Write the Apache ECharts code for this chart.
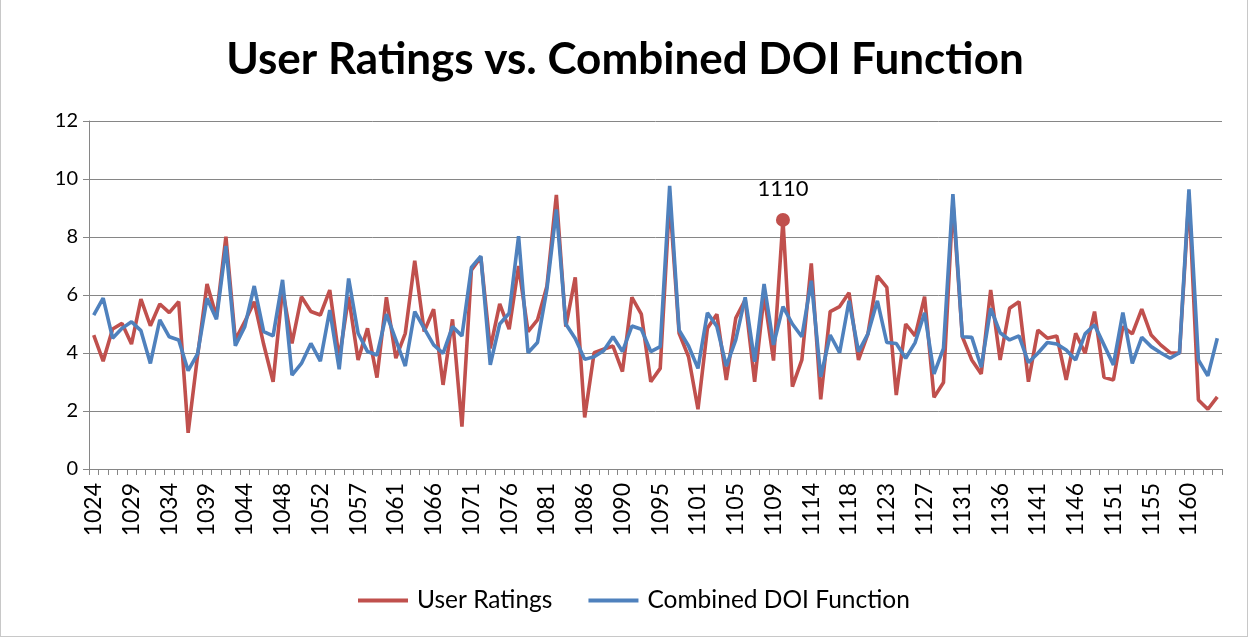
<!DOCTYPE html>
<html>
<head>
<meta charset="utf-8">
<title>User Ratings vs. Combined DOI Function</title>
<script src="https://cdn.jsdelivr.net/npm/echarts@6/dist/echarts.min.js"></script>
<style>
  html, body { margin: 0; padding: 0; background: #fff; }
  #frame { position: absolute; left: 0; top: -1px; width: 1246px; height: 636px; border: 1px solid #c8c8c8; }
  #chart { width: 1250px; height: 637px; }
</style>
</head>
<body>
<div id="frame"></div>
<div id="chart"></div>
<script>
// document ids on the x axis (only every 4th one is labelled)
var categories = [
  '1024','1025','1026','1027','1029','1030','1031','1032','1034','1035','1036','1037',
  '1039','1040','1041','1042','1044','1045','1046','1047','1048','1049','1050','1051',
  '1052','1053','1054','1055','1057','1058','1059','1060','1061','1062','1063','1064',
  '1066','1067','1068','1069','1071','1072','1073','1074','1076','1077','1078','1079',
  '1081','1082','1083','1084','1086','1087','1088','1089','1090','1091','1092','1093',
  '1095','1096','1097','1099','1101','1102','1103','1104','1105','1106','1107','1108',
  '1109','1110','1111','1112','1114','1115','1116','1117','1118','1119','1120','1121',
  '1123','1124','1125','1126','1127','1128','1129','1130','1131','1132','1133','1134',
  '1136','1137','1138','1139','1141','1142','1143','1144','1146','1147','1148','1149',
  '1151','1152','1153','1154','1155','1156','1157','1158','1160','1161','1162','1163'
];

var userRatings = [
  4.62, 3.72, 4.83, 5.02, 4.31, 5.86, 4.94, 5.69, 5.39, 5.77,
  1.25, 3.90, 6.38, 5.25, 8.01, 4.45, 5.08, 5.77, 4.30, 3.01,
  6.20, 4.33, 5.94, 5.43, 5.31, 6.17, 3.80, 5.94, 3.76, 4.85,
  3.15, 5.92, 3.82, 4.68, 7.18, 4.74, 5.51, 2.90, 5.16, 1.46,
  6.86, 7.30, 4.16, 5.69, 4.82, 7.00, 4.74, 5.14, 6.30, 9.45,
  4.91, 6.61, 1.78, 4.01, 4.13, 4.24, 3.36, 5.92, 5.34, 3.01,
  3.47, 9.30, 4.68, 3.87, 2.06, 4.85, 5.34, 3.07, 5.20, 5.83,
  3.01, 6.00, 3.74, 8.59, 2.84, 3.76, 7.09, 2.40, 5.43, 5.60,
  6.08, 3.76, 4.66, 6.66, 6.26, 2.55, 5.00, 4.59, 5.94, 2.47,
  2.98, 9.20, 4.56, 3.76, 3.28, 6.17, 3.76, 5.54, 5.77, 3.01,
  4.79, 4.51, 4.59, 3.07, 4.68, 3.99, 5.43, 3.16, 3.07, 4.91,
  4.66, 5.51, 4.62, 4.28, 4.01, 3.99, 9.40, 2.38, 2.06, 2.49
];

var combinedDOI = [
  5.31, 5.89, 4.51, 4.85, 5.08, 4.77, 3.64, 5.14, 4.56, 4.45,
  3.39, 3.97, 5.89, 5.16, 7.69, 4.25, 4.91, 6.31, 4.74, 4.59,
  6.52, 3.24, 3.64, 4.33, 3.72, 5.48, 3.44, 6.57, 4.68, 4.05,
  3.93, 5.34, 4.45, 3.55, 5.43, 4.85, 4.28, 3.99, 4.91, 4.59,
  6.95, 7.34, 3.59, 5.00, 5.37, 8.03, 4.01, 4.36, 6.20, 8.95,
  5.00, 4.50, 3.78, 3.87, 4.08, 4.56, 4.05, 4.93, 4.82, 4.05,
  4.22, 9.76, 4.79, 4.24, 3.47, 5.39, 4.91, 3.55, 4.45, 5.92,
  3.70, 6.38, 4.28, 5.60, 5.00, 4.56, 6.49, 3.18, 4.62, 4.01,
  5.80, 4.05, 4.66, 5.80, 4.36, 4.33, 3.82, 4.36, 5.39, 3.28,
  4.16, 9.48, 4.56, 4.54, 3.51, 5.54, 4.70, 4.45, 4.59, 3.67,
  3.99, 4.36, 4.31, 4.10, 3.76, 4.66, 4.97, 4.28, 3.59, 5.39,
  3.64, 4.54, 4.22, 4.01, 3.82, 4.01, 9.64, 3.76, 3.21, 4.51
];

var yTicks = [0, 2, 4, 6, 8, 10, 12];
var markedDoc = '1110';

var font = 'Lato, "Open Sans", sans-serif';
var markIdx = categories.indexOf(markedDoc);

var redData = userRatings.map(function (v, i) {
  if (i !== markIdx) return v;
  return {
    value: v,
    symbol: 'circle',
    symbolSize: 14,
    label: {
      show: true,
      position: 'top',
      distance: 13,
      formatter: markedDoc,
      fontSize: 22,
      color: '#000',
      fontFamily: font
    }
  };
});

var myChart = echarts.init(document.getElementById('chart'), null, { renderer: 'canvas' });

myChart.setOption({
  animation: false,
  title: {
    text: 'User Ratings vs. Combined DOI Function',
    left: 'center',
    top: 33,
    textStyle: { fontSize: 44, fontWeight: 'bold', color: '#000', fontFamily: font }
  },
  legend: {
    bottom: 19,
    left: 353,
    icon: 'rect',
    itemWidth: 50,
    itemHeight: 4,
    itemGap: 36,
    textStyle: { fontSize: 24.5, color: '#000', fontFamily: font, padding: [0, 0, 0, 4] }
  },
  grid: { left: 89, right: 28, top: 121, bottom: 168, containLabel: false },
  xAxis: {
    type: 'category',
    data: categories,
    boundaryGap: true,
    axisLine: { lineStyle: { color: '#868686', width: 1 } },
    axisTick: { show: true, interval: 0, length: 6, lineStyle: { color: '#868686' } },
    axisLabel: {
      interval: 3,
      rotate: 90,
      margin: 14,
      fontSize: 23,
      color: '#000',
      fontFamily: font
    },
    splitLine: { show: false }
  },
  yAxis: {
    type: 'value',
    min: yTicks[0],
    max: yTicks[yTicks.length - 1],
    interval: 2,
    axisLine: { show: true, lineStyle: { color: '#868686', width: 1 } },
    axisTick: { show: true, length: 6, lineStyle: { color: '#868686' } },
    axisLabel: { fontSize: 20, color: '#000', margin: 11, fontFamily: font },
    splitLine: { show: true, lineStyle: { color: '#868686', width: 1 } }
  },
  series: [
    {
      name: 'User Ratings',
      type: 'line',
      data: redData,
      symbol: 'none',
      showSymbol: true,
      lineStyle: { color: '#c0504d', width: 3.6 },
      itemStyle: { color: '#c0504d' },
      z: 2
    },
    {
      name: 'Combined DOI Function',
      type: 'line',
      data: combinedDOI,
      symbol: 'none',
      lineStyle: { color: '#4f81bd', width: 3.6 },
      itemStyle: { color: '#4f81bd' },
      z: 3
    }
  ]
});
</script>
</body>
</html>
